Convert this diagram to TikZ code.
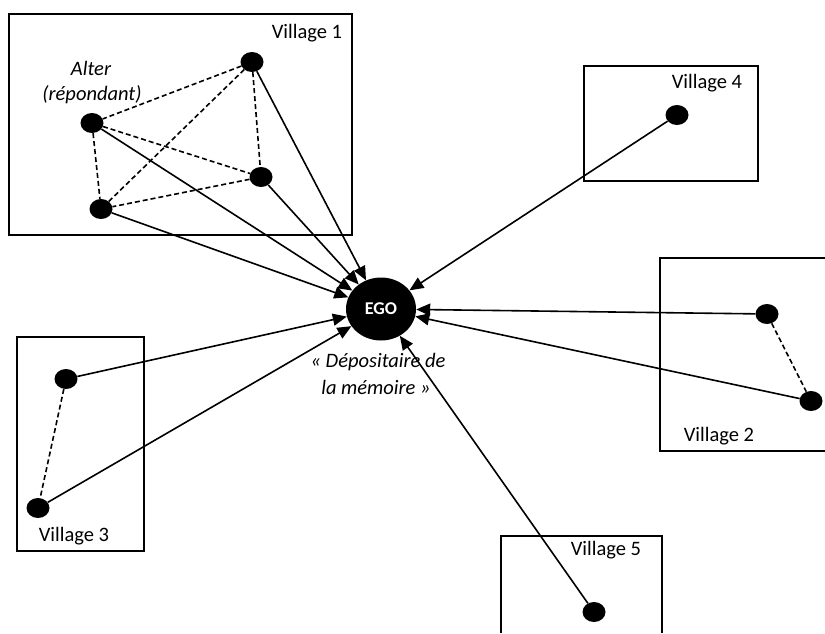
\documentclass[tikz,border=0pt]{standalone}
\usepackage{fontspec}
\setmainfont{Carlito}
\usetikzlibrary{arrows.meta,shapes.geometric}
\begin{document}
\begin{tikzpicture}[x=1pt,y=-1pt,
  dot/.style={ellipse,fill=black,minimum width=23pt,minimum height=20pt,inner sep=0pt},
  egonode/.style={ellipse,fill=black,minimum width=70pt,minimum height=63pt,inner sep=0pt,text=white,font=\fontsize{18}{20}\selectfont\bfseries},
  vbox/.style={draw=black,line width=2pt},
  vlabel/.style={inner sep=0pt,font=\fontsize{20.5}{24}\selectfont},
  itlabel/.style={inner sep=0pt,font=\fontsize{20.5}{24}\selectfont\itshape,align=center},
  tie/.style={draw=black,line width=1.6pt,dash pattern=on 5pt off 3pt},
  link/.style={draw=black,line width=1.6pt,-{Triangle[length=14pt,width=12pt]}}
]
\useasboundingbox (0,0) rectangle (825,633);
\fill[white] (0,0) rectangle (825,633);
% boxes
\draw[vbox] (9,14) rectangle (352,235);
\draw[vbox] (584,66) rectangle (758,181);
\draw[vbox] (825,258) -- (660,258) -- (660,451) -- (825,451);
\draw[vbox] (17,337) rectangle (144,551);
\draw[vbox] (501,633) -- (501,536) -- (662,536) -- (662,633);
% labels
\node[vlabel] (l1) at (307,33) {Village 1};
\node[vlabel] (l4) at (707,83) {Village 4};
\node[vlabel] (l2) at (719,436) {Village 2};
\node[vlabel] (l3) at (74,536) {Village 3};
\node[vlabel] (l5) at (606,550) {Village 5};
\node[itlabel] (alt1) at (91,68) {Alter};
\node[itlabel] (alt2) at (92,95) {(répondant)};
\node[itlabel] (dep1) at (378,362) {« Dépositaire de};
\node[itlabel] (dep2) at (376,387) {la mémoire »};
% nodes
\node[egonode] (ego) at (381,309) {EGO};
\node[dot] (v1a) at (252,62) {};
\node[dot] (v1b) at (92,123) {};
\node[dot] (v1c) at (261,177) {};
\node[dot] (v1d) at (101,209) {};
\node[dot] (v4a) at (677,115) {};
\node[dot] (v2a) at (767,314) {};
\node[dot] (v2b) at (811,401) {};
\node[dot] (v3a) at (66,379) {};
\node[dot] (v3b) at (38,508) {};
\node[dot] (v5a) at (594,612) {};
% dashed ties
\draw[tie] (v1a) -- (v1b);
\draw[tie] (v1a) -- (v1c);
\draw[tie] (v1a) -- (v1d);
\draw[tie] (v1b) -- (v1c);
\draw[tie] (v1b) -- (v1d);
\draw[tie] (v1c) -- (v1d);
\draw[tie] (v2a) -- (v2b);
\draw[tie] (v3a) -- (v3b);
% links to ego
\foreach \n in {v1a,v1b,v1c,v1d,v4a,v2a,v2b,v3a,v3b,v5a}
  \draw[link] (\n) -- (ego);
\end{tikzpicture}
\end{document}
